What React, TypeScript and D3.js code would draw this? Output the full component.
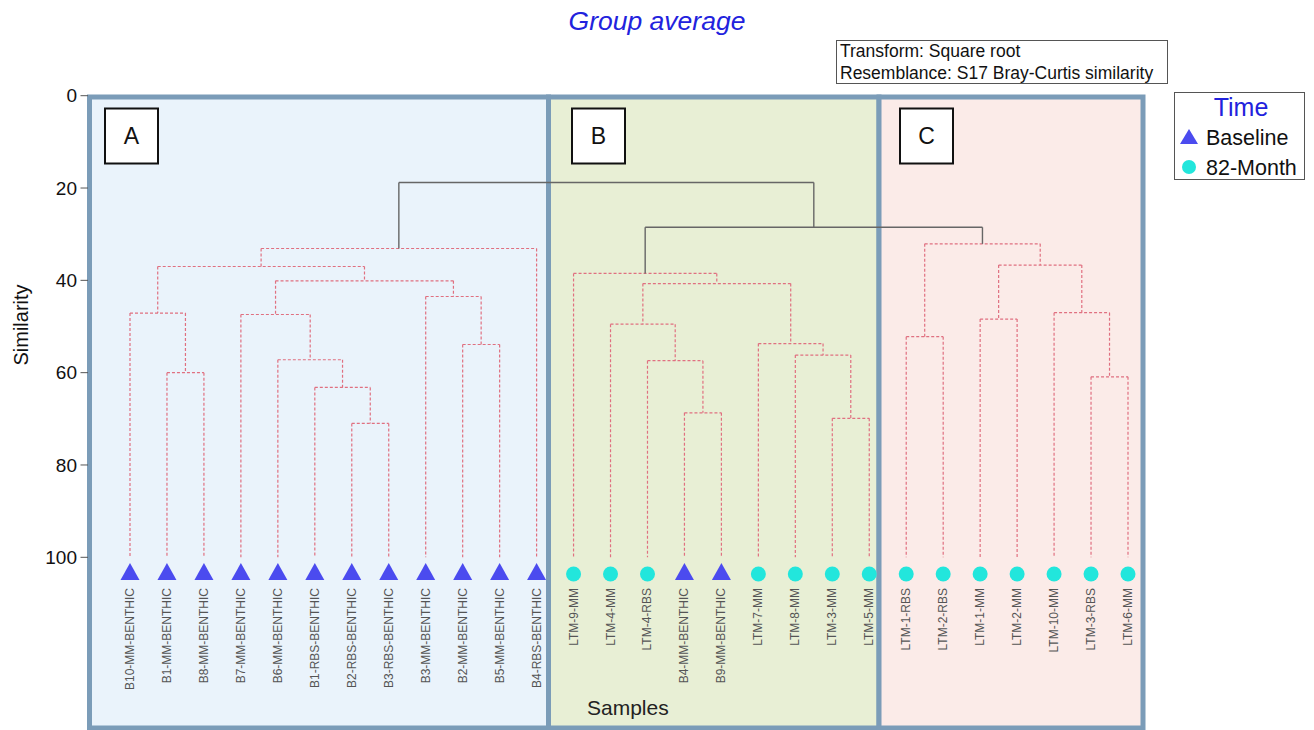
import React from "react";
import * as d3 from "d3";

// ---- data ----
const leaves = [
  "B10-MM-BENTHIC", "B1-MM-BENTHIC", "B8-MM-BENTHIC", "B7-MM-BENTHIC", "B6-MM-BENTHIC",
  "B1-RBS-BENTHIC", "B2-RBS-BENTHIC", "B3-RBS-BENTHIC", "B3-MM-BENTHIC", "B2-MM-BENTHIC",
  "B5-MM-BENTHIC", "B4-RBS-BENTHIC", "LTM-9-MM", "LTM-4-MM", "LTM-4-RBS", "B4-MM-BENTHIC",
  "B9-MM-BENTHIC", "LTM-7-MM", "LTM-8-MM", "LTM-3-MM", "LTM-5-MM", "LTM-1-RBS", "LTM-2-RBS",
  "LTM-1-MM", "LTM-2-MM", "LTM-10-MM", "LTM-3-RBS", "LTM-6-MM",
];
const leafTime = leaves.map((l) => (l.startsWith("LTM") ? "82-Month" : "Baseline"));

// merges: [id, childA, childB, similarity, significant]
const merges: [string, string, string, number, boolean][] = [
  ["a1", "B1-MM-BENTHIC", "B8-MM-BENTHIC", 60.0, false],
  ["a2", "B10-MM-BENTHIC", "a1", 47.1, false],
  ["a3", "B2-RBS-BENTHIC", "B3-RBS-BENTHIC", 71.0, false],
  ["a4", "B1-RBS-BENTHIC", "a3", 63.2, false],
  ["a5", "B6-MM-BENTHIC", "a4", 57.2, false],
  ["a6", "B7-MM-BENTHIC", "a5", 47.4, false],
  ["a7", "B2-MM-BENTHIC", "B5-MM-BENTHIC", 53.9, false],
  ["a8", "B3-MM-BENTHIC", "a7", 43.5, false],
  ["a9", "a6", "a8", 40.1, false],
  ["a10", "a2", "a9", 37.0, false],
  ["a11", "a10", "B4-RBS-BENTHIC", 33.1, false],
  ["b1", "B4-MM-BENTHIC", "B9-MM-BENTHIC", 68.7, false],
  ["b2", "LTM-4-RBS", "b1", 57.4, false],
  ["b3", "LTM-4-MM", "b2", 49.5, false],
  ["b4", "LTM-3-MM", "LTM-5-MM", 69.9, false],
  ["b5", "LTM-8-MM", "b4", 56.2, false],
  ["b6", "LTM-7-MM", "b5", 53.7, false],
  ["b7", "b3", "b6", 40.7, false],
  ["b8", "LTM-9-MM", "b7", 38.5, false],
  ["c1", "LTM-1-RBS", "LTM-2-RBS", 52.2, false],
  ["c2", "LTM-1-MM", "LTM-2-MM", 48.4, false],
  ["c3", "LTM-3-RBS", "LTM-6-MM", 60.9, false],
  ["c4", "LTM-10-MM", "c3", 47.0, false],
  ["c5", "c2", "c4", 36.7, false],
  ["c6", "c1", "c5", 32.1, false],
  ["bc", "b8", "c6", 28.5, true],
  ["root", "a11", "bc", 18.8, true],
];

const yTicks = [0, 20, 40, 60, 80, 100];
const groups = ["A", "B", "C"];
const legendItems = ["Baseline", "82-Month"];

// ---- layout ----
const W = 1314, H = 730;
const FONT = "'Liberation Sans', Arial, Helvetica, sans-serif";
const x = d3.scalePoint<string>().domain(leaves).range([130, 1128]);
const y = d3.scaleLinear().domain([0, 100]).range([95.7, 557.3]);

const panels = [
  { x0: 89.5, x1: 548.5, fill: "#eaf3fb" },
  { x0: 548.5, x1: 879, fill: "#e8efd5" },
  { x0: 879, x1: 1143, fill: "#fbebe8" },
];
const letterBoxX = [105, 572, 900];

const BASE_COLOR = "#4b4bef";
const MONTH_COLOR = "#22e6dc";

export default function App() {
  const pos: Record<string, { x: number; s: number }> = {};
  leaves.forEach((l) => (pos[l] = { x: x(l)!, s: 100 }));
  const links: { x1: number; y1: number; x2: number; y2: number; sig: boolean }[] = [];
  merges.forEach(([id, a, b, s, sig]) => {
    const pa = pos[a], pb = pos[b];
    pos[id] = { x: (pa.x + pb.x) / 2, s };
    links.push({ x1: pa.x, y1: y(s), x2: pb.x, y2: y(s), sig });
    links.push({ x1: pa.x, y1: y(s), x2: pa.x, y2: y(pa.s), sig });
    links.push({ x1: pb.x, y1: y(s), x2: pb.x, y2: y(pb.s), sig });
  });

  return (
    <svg width={W} height={H} style={{ position: "absolute", left: 0, top: 0, background: "#fff" }} fontFamily={FONT}>
      <rect x={0} y={0} width={W} height={H} fill="#fff" />
      <text x={657} y={30} textAnchor="middle" fontSize={26.5} fontStyle="italic" fill="#2222dd">Group average</text>

      {/* info box */}
      <rect x={836.5} y={40.5} width={331} height={43} fill="#fff" stroke="#555" strokeWidth={1} />
      <text x={840} y={56.5} fontSize={17.5} fill="#111">Transform: Square root</text>
      <text x={840} y={79} fontSize={17.5} fill="#111">Resemblance: S17 Bray-Curtis similarity</text>

      {/* panels */}
      {panels.map((p, i) => (
        <rect key={i} x={p.x0} y={97} width={p.x1 - p.x0} height={631} fill={p.fill} stroke="#7b9cb8" strokeWidth={5} />
      ))}
      {groups.map((g, i) => (
        <g key={g}>
          <rect x={letterBoxX[i]} y={108.5} width={53} height={55} fill="#fff" stroke="#111" strokeWidth={2} />
          <text x={letterBoxX[i] + 26.5} y={144} textAnchor="middle" fontSize={23} fill="#111">{g}</text>
        </g>
      ))}

      {/* y axis */}
      {yTicks.map((t) => (
        <g key={t}>
          <line x1={80.5} x2={88} y1={y(t)} y2={y(t)} stroke="#555" strokeWidth={1} />
          <text x={77} y={y(t)} dy="0.35em" textAnchor="end" fontSize={19} fill="#111">{t}</text>
        </g>
      ))}
      <text transform={`translate(28,325) rotate(-90)`} textAnchor="middle" fontSize={20} fill="#111">Similarity</text>

      {/* dendrogram */}
      {links.map((l, i) => (
        <line key={i} x1={l.x1} y1={l.y1} x2={l.x2} y2={l.y2}
          stroke={l.sig ? "#666" : "#e07080"} strokeWidth={l.sig ? 1.4 : 1.2}
          strokeDasharray={l.sig ? undefined : "3,2"} />
      ))}

      {/* markers and labels */}
      {leaves.map((l, i) => {
        const cx = x(l)!;
        const base = leafTime[i] === "Baseline";
        return (
          <g key={l}>
            {base ? (
              <path d={`M${cx},${563} L${cx + 9.5},${580} L${cx - 9.5},${580} Z`} fill={BASE_COLOR} />
            ) : (
              <circle cx={cx} cy={574} r={7.5} fill={MONTH_COLOR} />
            )}
            <text transform={`translate(${cx + 4},588) rotate(-90)`} textAnchor="end" fontSize={12} fill="#555">{l}</text>
          </g>
        );
      })}

      <text x={587} y={715} fontSize={21} fill="#222">Samples</text>

      {/* legend */}
      <rect x={1174.5} y={92.5} width={130} height={87} fill="#fff" stroke="#555" strokeWidth={1} />
      <text x={1241} y={116} textAnchor="middle" fontSize={25} fill="#2222dd">Time</text>
      {legendItems.map((it, i) => {
        const cy = 137 + i * 30;
        return (
          <g key={it}>
            {i === 0 ? (
              <path d={`M1189,${cy - 8} L1198,${cy + 7} L1180,${cy + 7} Z`} fill={BASE_COLOR} />
            ) : (
              <circle cx={1189} cy={cy} r={7} fill={MONTH_COLOR} />
            )}
            <text x={1206} y={cy + 7.5} fontSize={21.5} fill="#111">{it}</text>
          </g>
        );
      })}
    </svg>
  );
}
